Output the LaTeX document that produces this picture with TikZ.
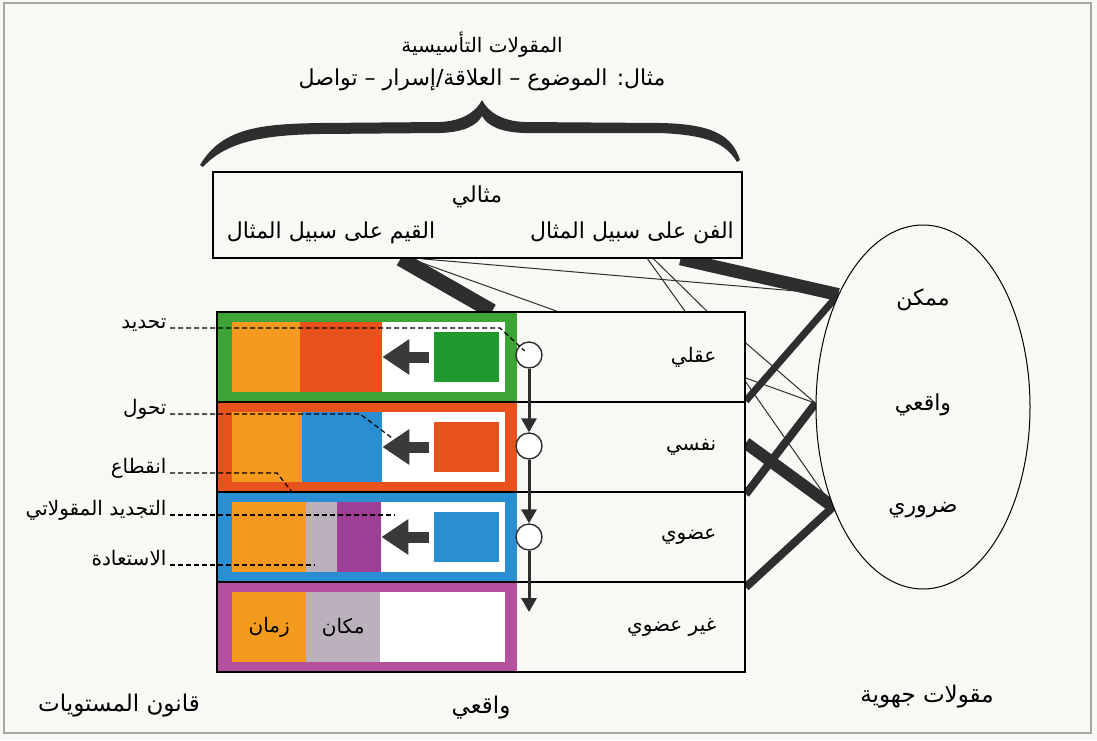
\documentclass[tikz,border=0pt]{standalone}
\usepackage{fontspec}
\usetikzlibrary{shapes.geometric,arrows.meta,backgrounds}
\newfontfamily\arabicfont[Script=Arabic]{DejaVu Sans}
\TeXXeTstate=1
\newcommand\artext[1]{\beginR#1\endR}
\definecolor{paper}{HTML}{F8F8F4}
\definecolor{darkline}{HTML}{2E2E2E}
\definecolor{arrowgray}{HTML}{3A3A3A}
\definecolor{tgreen}{HTML}{3CA535}
\definecolor{tgreensq}{HTML}{209A2F}
\definecolor{torange}{HTML}{F39A1F}
\definecolor{tred}{HTML}{E8521D}
\definecolor{tblue}{HTML}{2A8FD2}
\definecolor{tgray}{HTML}{BBB1BC}
\definecolor{tpurple}{HTML}{9D3F97}
\definecolor{tmagenta}{HTML}{B5509E}

\begin{document}
\begin{tikzpicture}[x=1pt,y=-1pt,
  every node/.style={font=\arabicfont\fontsize{20}{24}\selectfont},
  big/.style={font=\arabicfont\fontsize{22}{26}\selectfont},
  huge/.style={font=\arabicfont\fontsize{23}{27}\selectfont},
  rowbox/.style={draw=black, line width=1.6pt, minimum width=528pt, minimum height=90pt, inner sep=0pt},
  block/.style={inner sep=0pt, minimum height=70pt, anchor=north west},
  knot/.style={circle, draw=darkline, line width=1.4pt, fill=white, minimum size=26pt, inner sep=0pt},
  flow/.style={draw=darkline, line width=3pt, -{Triangle[length=14pt,width=15pt]}},
  push/.style={draw=arrowgray, line width=11pt, -{Triangle[length=27pt,width=34pt]}},
  leader/.style={draw=black, line width=1.2pt, dash pattern=on 5pt off 3pt},
  heavy/.style={draw=darkline, line width=#1},
  link/.style={draw=darkline, line width=1pt}]
  \useasboundingbox (0,0) rectangle (1097,740);
  \begin{scope}[on background layer]
    \fill[paper] (0,0) rectangle (1097,740);
  \end{scope}
  \draw[gray!70, line width=1.2pt] (4,3) rectangle (1091,733);

  % titles and brace
  \node (title) at (482,45) {\artext{المقولات التأسيسية}};
  \node[big] (example) at (482,80) {\artext{مثال: الموضوع – العلاقة/إسرار – تواصل}};
  \fill[darkline] (200,165) .. controls (222,128) and (260,124) .. (320,123) -- (440,122)
    .. controls (462,121) and (476,112) .. (482,100) .. controls (488,112) and (502,121) .. (524,122)
    -- (660,123) .. controls (712,124) and (732,135) .. (740,160) -- (737,162)
    .. controls (725,142) and (705,135) .. (660,133) -- (524,133)
    .. controls (500,132) and (488,126) .. (482,116) .. controls (476,126) and (464,132) .. (440,133)
    -- (320,134) .. controls (262,135) and (226,142) .. (203,167) -- cycle;

  % ideal box
  \node[draw, line width=1.6pt, minimum width=529pt, minimum height=86pt, inner sep=0pt] (ideal) at (477.5,215) {};
  \node[big] (mithali) at (477,197) {\artext{مثالي}};
  \node[big] (qiyam) at (331,233) {\artext{القيم على سبيل المثال}};
  \node[big] (fann) at (632,233) {\artext{الفن على سبيل المثال}};

  % coloured levels
  \foreach \i/\t/\c in {1/312/tgreen,2/402/tred,3/492/tblue,4/582/tmagenta}{
    \fill[\c] (218,\t) rectangle (517,\t+90);
    \fill[white] (232,\t+10) rectangle (505,\t+80);
  }
  \fill[torange] (232,322) rectangle (300,392);
  \node[block, fill=tred, minimum width=82pt] (b1) at (300,322) {};
  \fill[torange] (232,412) rectangle (302,482);
  \node[block, fill=tblue, minimum width=80pt] (b2) at (302,412) {};
  \fill[torange] (232,502) rectangle (306,572);
  \fill[tgray] (306,502) rectangle (337,572);
  \node[block, fill=tpurple, minimum width=44pt] (b3) at (337,502) {};
  \node[block, fill=torange, minimum width=74pt] (zaman) at (232,592) {\artext{زمان}};
  \node[block, fill=tgray, minimum width=74pt] (makan) at (306,592) {\artext{مكان}};
  \foreach \i/\t/\c in {1/312/tgreensq,2/402/tred,3/492/tblue}{
    \node[fill=\c, minimum width=65pt, minimum height=50pt, inner sep=0pt] (sq\i) at (466,\t+45) {};
    \draw[push, shorten <=4pt] (sq\i.west) -- (sq\i.west -| b\i.east);
  }

  % levels table
  \foreach \i/\y in {1/357,2/447,3/537,4/627}
    \node[rowbox] (r\i) at (481,\y) {};
  \node[anchor=east] (aql) at ([xshift=-26pt]r1.east) {\artext{عقلي}};
  \node[anchor=east] (nafsi) at ([xshift=-26pt]r2.east) {\artext{نفسي}};
  \node[anchor=east] (udwi) at ([xshift=-26pt]r3.east) {\artext{عضوي}};
  \node[anchor=east] (ghayr) at ([xshift=-26pt]r4.east) {\artext{غير عضوي}};

  \node[knot] (c1) at (529,355) {};
  \node[knot] (c2) at (529,446) {};
  \node[knot] (c3) at (529,537) {};
  \coordinate (flowend) at (529,612);
  \draw[flow] (c1) -- (c2);
  \draw[flow] (c2) -- (c3);
  \draw[flow] (c3) -- (flowend);

  % leaders
  \node[anchor=base east] (tahdid) at (170,328) {\artext{تحديد}};
  \node[anchor=base east] (tahawwul) at (170,414) {\artext{تحول}};
  \node[anchor=base east] (inqita) at (170,473) {\artext{انقطاع}};
  \node[anchor=base east] (tajdid) at (170,515) {\artext{التجديد المقولاتي}};
  \node[anchor=base east] (istiada) at (170,565) {\artext{الاستعادة}};
  \coordinate (tahawwulend) at (392,438);
  \coordinate (inqitaend) at (292,492);
  \coordinate (tajdidend) at (395,515);
  \coordinate (istiadaend) at (315,565);
  \draw[leader, shorten >=6pt] (tahdid.base east) -- (500,328) -- (c1.center);
  \draw[leader] (tahawwul.base east) -- (360,414) -- (tahawwulend);
  \draw[leader] (inqita.base east) -- (277,473) -- (inqitaend);
  \draw[leader] (tajdid.base east) -- (tajdidend);
  \draw[leader] (istiada.base east) -- (istiadaend);

  % modal categories
  \node[ellipse, draw, line width=1pt, fill=paper, minimum width=214pt, minimum height=364pt, inner sep=0pt] (modal) at (923,407) {};
  \node[big] (mumkin) at ([yshift=107pt]modal.center) {\artext{ممكن}};
  \node[big] (waqiim) at ([yshift=2pt]modal.center) {\artext{واقعي}};
  \node[big] (daruri) at ([yshift=-103pt]modal.center) {\artext{ضروري}};

  % links
  \begin{scope}[on background layer]
    \begin{scope}
      \clip (0,258) rectangle (1097,312);
      \draw[heavy=15pt] ([xshift=-77pt]ideal.south) -- ([xshift=11pt]r1.north);
      \draw[link] ([xshift=-67pt]ideal.south) -- ([xshift=76pt]r1.north);
      \draw[link] ([xshift=-56pt]ideal.south) -- (modal.127);
      \draw[link] ([xshift=170pt]ideal.south) -- ([xshift=204pt]r1.north);
      \draw[link] ([xshift=176pt]ideal.south) -- ([xshift=226pt]r1.north);
      \draw[heavy=13pt] ([xshift=203pt]ideal.south) -- (modal.127);
    \end{scope}
    \begin{scope}
      \clip (745,0) rectangle (1097,740);
      \draw[link] ([yshift=14pt]r1.east) -- (modal.178);
      \draw[link] ([yshift=-21pt]r1.east) -- (modal.178);
      \draw[link] ([yshift=-25pt]r1.east) -- (modal.228);
      \draw[heavy=7pt] ([yshift=2pt]r1.south east) -- (modal.127);
      \draw[heavy=12pt] ([yshift=4pt]r2.east) -- (modal.228);
      \draw[heavy=8pt] ([yshift=-3pt]r3.north east) -- (modal.178);
      \draw[heavy=8pt] ([yshift=-6pt]r4.north east) -- (modal.228);
    \end{scope}
  \end{scope}

  % bottom captions
  \node[huge] (qanun) at (119,706) {\artext{قانون المستويات}};
  \node[huge] (waqii) at (481,708) {\artext{واقعي}};
  \node[huge] (jihawiya) at (927,697) {\artext{مقولات جهوية}};
\end{tikzpicture}
\end{document}
